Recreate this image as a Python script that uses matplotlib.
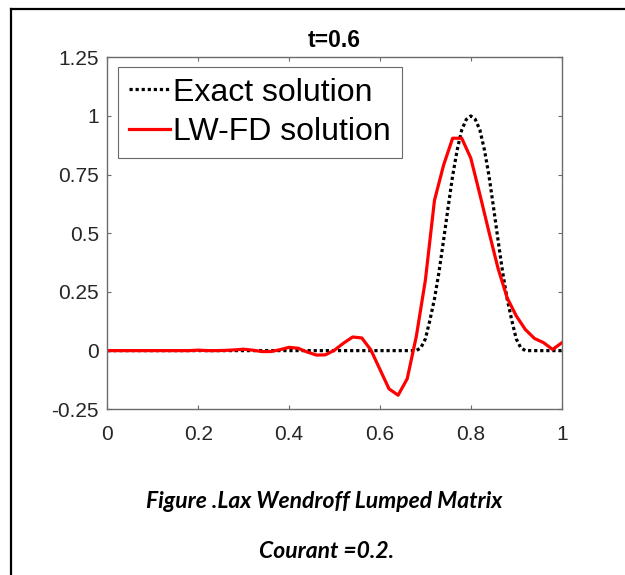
import numpy as np
import matplotlib
matplotlib.use("Agg")
import matplotlib.pyplot as plt
from matplotlib.lines import Line2D

plt.rcParams["font.family"] = ["Liberation Sans", "DejaVu Sans"]

# LW-FD solution on the 0.02 grid
x_fd = np.round(np.arange(0, 1.0001, 0.02), 2)
u_fd = [0.0, 0.0, 0.0, 0.0, 0.0, 0.0, 0.0, 0.0, 0.0, 0.0,
        0.002, 0.0, 0.0, 0.001, 0.003, 0.006, 0.002, -0.004, -0.004, 0.004,
        0.014, 0.010, -0.006, -0.019, -0.018, 0.002, 0.032, 0.058, 0.054, 0.003,
        -0.080, -0.163, -0.190, -0.120, 0.060, 0.300, 0.640, 0.790, 0.905, 0.905,
        0.820, 0.665, 0.505, 0.350, 0.225, 0.148, 0.090, 0.052, 0.034, 0.005,
        0.033]

# exact pulse (zero outside 0.68..0.92)
x_ex = [0.0, 0.68, 0.69, 0.70, 0.71, 0.72, 0.73, 0.74, 0.75, 0.76, 0.77, 0.78,
        0.79, 0.80, 0.81, 0.82, 0.83, 0.84, 0.85, 0.86, 0.87, 0.88, 0.89,
        0.90, 0.91, 0.92, 1.0]
u_ex = [0.0, 0.0, 0.012, 0.05, 0.13, 0.22, 0.335, 0.47, 0.61, 0.745, 0.855,
        0.94, 0.985, 1.0, 0.985, 0.94, 0.855, 0.745, 0.61, 0.47, 0.335, 0.22,
        0.13, 0.05, 0.012, 0.0, 0.0]

xticks = [0, 0.2, 0.4, 0.6, 0.8, 1]
xticklabels = ["0", "0.2", "0.4", "0.6", "0.8", "1"]
yticks = [-0.25, 0, 0.25, 0.5, 0.75, 1, 1.25]
yticklabels = ["-0.25", "0", "0.25", "0.5", "0.75", "1", "1.25"]

fig = plt.figure(figsize=(6.25, 5.75), dpi=100)
ax = fig.add_axes([0.1717, 0.2882, 0.727, 0.6122])

ax.plot(x_ex, u_ex, linestyle=(0, (1, 0.9)), color="black", lw=2.3,
        label="Exact solution")
ax.plot(x_fd, u_fd, "-", color="#ff0000", lw=2.3, label="LW-FD solution")

ax.set_xlim(0, 1)
ax.set_ylim(-0.25, 1.25)
ax.set_xticks(xticks)
ax.set_xticklabels(xticklabels)
ax.set_yticks(yticks)
ax.set_yticklabels(yticklabels)
for s in ax.spines.values():
    s.set_color("#6b6b6b")
    s.set_linewidth(1.0)
ax.tick_params(direction="in", length=3, width=0.8, color="#6b6b6b",
               labelsize=15, labelcolor="#262626", top=True, right=True)
ax.tick_params(axis="x", pad=11)
ax.tick_params(axis="y", pad=6)
ax.set_title("t=0.6", fontsize=16.5, fontweight="bold", pad=7.5)

leg = ax.legend(loc="upper left", bbox_to_anchor=(0.024, 0.972), borderaxespad=0,
                fontsize=23, handlelength=1.3, handletextpad=0.1,
                labelspacing=0.3, borderpad=0.33, fancybox=False)
leg.get_frame().set_edgecolor("#444444")
leg.get_frame().set_linewidth(0.8)

# page frame (top and left edges)
fig.add_artist(Line2D([10.5 / 625, 10.5 / 625], [-0.01, 1 - 8.5 / 575],
                      transform=fig.transFigure, color="black", lw=1.6))
fig.add_artist(Line2D([10.5 / 625, 1.01], [1 - 8.5 / 575, 1 - 8.5 / 575],
                      transform=fig.transFigure, color="black", lw=1.6))

cap = dict(family=["Lato", "DejaVu Sans"], fontweight="bold", style="italic",
           fontsize=16.5, ha="center", va="baseline")
fig.text(324 / 625, 1 - 508 / 575, "Figure .Lax Wendroff Lumped Matrix", **cap)
fig.text(327 / 625, 1 - 558 / 575, "Courant =0.2.", **cap)

fig.savefig("out.png", dpi=100, facecolor="white")
